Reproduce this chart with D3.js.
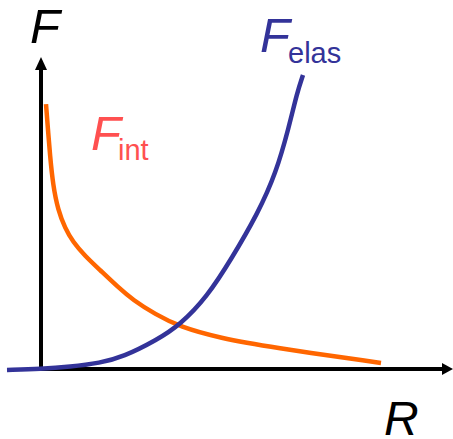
<html>
    <head>
        <script src="https://d3js.org/d3.v7.min.js" charset="utf-8"></script>
    </head>
    <style>
        body{ margin:0; background:#fff; }
        svg{ display:block; }
        text{ font-family:"Liberation Sans", Arial, sans-serif; }
    </style>
    <body>
    </body>
    <script>
        // conceptual curves, arbitrary units
        const intR = [0.125,0.175,0.225,0.3,0.425,0.6,0.8,1.1,1.475,1.925,2.3,2.85,3.475,4.475,5.725,8.5];
        const intF = [8.83,7.97,7.13,6.13,5.3,4.7,4.23,3.77,3.3,2.73,2.3,1.83,1.4,1.03,0.73,0.2];
        const elasR = [-0.85,0,0.725,1.475,2.05,2.9,3.475,4.15,4.775,5.425,5.875,6.2,6.4,6.55];
        const elasF = [-0.03,0,0.07,0.2,0.4,0.97,1.47,2.4,3.7,5.2,6.53,8.07,9.2,9.8];

        const w = 453, h = 439;
        const svg = d3.select('body').append('svg')
                    .attr('width',w)
                    .attr('height',h);

        const x = d3.scaleLinear().domain([0,10]).range([41,441]);
        const y = d3.scaleLinear().domain([0,10]).range([369,69]);

        const line = d3.line()
                    .x(d=>x(d[0]))
                    .y(d=>y(d[1]))
                    .curve(d3.curveBasis);

        // axes
        svg.append('line')
            .attr('x1',x(0)).attr('y1',y(0)+2)
            .attr('x2',x(0)).attr('y2',68)
            .attr('stroke','#000').attr('stroke-width',4);
        svg.append('line')
            .attr('x1',x(0)-2).attr('y1',y(0))
            .attr('x2',445).attr('y2',y(0))
            .attr('stroke','#000').attr('stroke-width',4);
        svg.append('path')
            .attr('d','M'+x(0)+',57 L'+(x(0)-6)+',70 L'+(x(0)+6)+',70 Z')
            .attr('fill','#000');
        svg.append('path')
            .attr('d','M453,'+y(0)+' L442,'+(y(0)-6)+' L442,'+(y(0)+6)+' Z')
            .attr('fill','#000');

        svg.append('path')
            .datum(intR.map((r,i)=>[r,intF[i]]))
            .attr('d',line)
            .attr('fill','none')
            .attr('stroke','#ff6600')
            .attr('stroke-width',4.5);

        svg.append('path')
            .datum(elasR.map((r,i)=>[r,elasF[i]]))
            .attr('d',line)
            .attr('fill','none')
            .attr('stroke','#333399')
            .attr('stroke-width',4.5);

        // labels
        svg.append('text').attr('x',30).attr('y',43)
            .style('font-size','49px').style('font-style','italic')
            .attr('fill','#000').text('F');
        svg.append('text').attr('x',384).attr('y',435)
            .style('font-size','48px').style('font-style','italic')
            .attr('fill','#000').text('R');

        const te = svg.append('text').attr('x',260).attr('y',52).attr('fill','#333399');
        te.append('tspan').style('font-size','49px').style('font-style','italic').text('F');
        te.append('tspan').attr('x',288).attr('y',63).style('font-size','29px').text('elas');

        const ti = svg.append('text').attr('x',91).attr('y',150).attr('fill','#ff5050');
        ti.append('tspan').style('font-size','49px').style('font-style','italic').text('F');
        ti.append('tspan').attr('x',118).attr('y',160).style('font-size','29px').text('int');
    </script>
</html>
